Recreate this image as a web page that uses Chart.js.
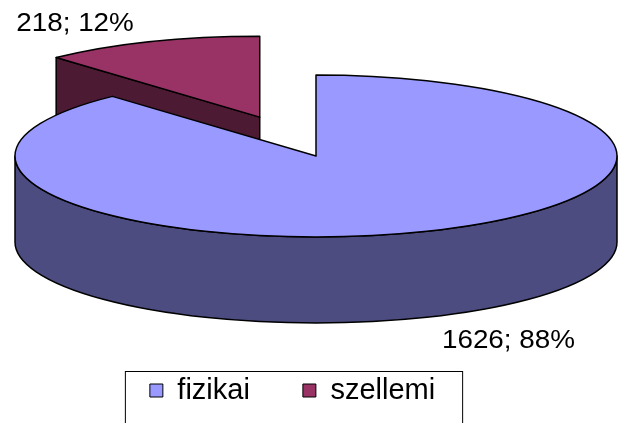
<!DOCTYPE html>
<html>
<head>
<meta charset="utf-8">
<script src="https://cdn.jsdelivr.net/npm/chart.js@4.4.1/dist/chart.umd.min.js"></script>
<style>
  html, body { margin: 0; padding: 0; background: #fff; }
</style>
</head>
<body>
<canvas id="pieChart" width="624" height="423"></canvas>
<script>
// Values
const categories = ['fizikai', 'szellemi'];
const counts = [1626, 218];
const explode = [0, 155];            // px, measured in the un-tilted pie
const topColors = ['#9999FF', '#993366'];
const sideColors = ['#4C4C80', '#4D1A33'];

const FONT = '"Liberation Sans", Arial, sans-serif';

// parts of an arc that face the viewer (lower half of the ellipse)
function frontParts(a1, a2) {
    const parts = [];
    for (let k = -1; k <= 2; k++) {
        const s = Math.max(a1, 2 * Math.PI * k);
        const e = Math.min(a2, 2 * Math.PI * k + Math.PI);
        if (e > s) parts.push([s, e]);
    }
    return parts;
}

// Fake 3D: tilt each arc into an ellipse and give it a wall
const pie3d = {
    id: 'pie3d',
    beforeDatasetsDraw(chart, args, opts) {
        const ctx = chart.ctx;
        const values = chart.data.datasets[0].data;
        const total = values.reduce((a, b) => a + b, 0);
        const sy = opts.tilt, depth = opts.depth;

        const slices = chart.getDatasetMeta(0).data.map((arc, i) => {
            const p = arc.getProps(['startAngle', 'endAngle', 'outerRadius']);
            const mid = (p.startAngle + p.endAngle) / 2;
            const off = arc.options.offset || 0;
            return {
                value: values[i],
                a1: p.startAngle, a2: p.endAngle, r: p.outerRadius, mid: mid,
                x: opts.centerX + Math.cos(mid) * off,
                y: opts.centerY + Math.sin(mid) * off * sy,
                top: arc.options.backgroundColor,
                side: sideColors[i]
            };
        });

        // back slices first
        slices.sort((a, b) => Math.sin(a.mid) - Math.sin(b.mid));

        ctx.save();
        ctx.lineWidth = opts.lineWidth;
        ctx.strokeStyle = '#000';
        ctx.lineJoin = 'round';

        slices.forEach(s => {
            const ry = s.r * sy;
            ctx.fillStyle = s.side;

            // cut faces that turn toward the viewer
            [[s.a1, Math.cos(s.a1) < -0.01], [s.a2, Math.cos(s.a2) > 0.01]].forEach(([a, visible]) => {
                if (!visible) return;
                const px = s.x + Math.cos(a) * s.r;
                const py = s.y + Math.sin(a) * ry;
                ctx.beginPath();
                ctx.moveTo(s.x, s.y);
                ctx.lineTo(px, py);
                ctx.lineTo(px, py + depth);
                ctx.lineTo(s.x, s.y + depth);
                ctx.closePath();
                ctx.fill();
                ctx.stroke();
            });

            // outer wall
            frontParts(s.a1, s.a2).forEach(([a, b]) => {
                ctx.beginPath();
                ctx.ellipse(s.x, s.y, s.r, ry, 0, a, b);
                ctx.lineTo(s.x + Math.cos(b) * s.r, s.y + Math.sin(b) * ry + depth);
                ctx.ellipse(s.x, s.y + depth, s.r, ry, 0, b, a, true);
                ctx.closePath();
                ctx.fill();
                ctx.stroke();
            });

            // top face
            ctx.beginPath();
            ctx.moveTo(s.x, s.y);
            ctx.ellipse(s.x, s.y, s.r, ry, 0, s.a1, s.a2);
            ctx.closePath();
            ctx.fillStyle = s.top;
            ctx.fill();
            ctx.stroke();
        });

        // data labels "value; percent"
        ctx.fillStyle = '#000';
        ctx.font = opts.labelSize + 'px ' + FONT;
        slices.forEach(s => {
            const c = Math.cos(s.mid), sn = Math.sin(s.mid);
            const ex = s.x + c * s.r;
            const ey = s.y + sn * s.r * sy + (sn > 0 ? depth : 0);
            const text = s.value + '; ' + Math.round(s.value / total * 100) + '%';
            ctx.save();
            ctx.translate(ex + c * opts.labelGapX, ey + sn * opts.labelGapY);
            ctx.scale(opts.textStretch, 1);
            ctx.textAlign = c >= 0 ? 'left' : 'right';
            ctx.textBaseline = sn >= 0 ? 'top' : 'alphabetic';
            ctx.fillText(text, 0, 0);
            ctx.restore();
        });

        ctx.restore();
        return false;
    }
};

// thin frame around the legend
const legendFrame = {
    id: 'legendFrame',
    afterDraw(chart) {
        const boxes = chart.legend.legendHitBoxes;
        if (!boxes || !boxes.length) return;
        const first = boxes[0], last = boxes[boxes.length - 1];
        const left = first.left - 25;
        const right = last.left + last.width + 27;
        const top = first.top - 5;
        const ctx = chart.ctx;
        ctx.save();
        ctx.strokeStyle = '#000';
        ctx.lineWidth = 1;
        ctx.strokeRect(left + 0.5, top + 0.5, right - left, chart.height - top + 5);
        ctx.restore();
    }
};

const ctx = document.getElementById('pieChart').getContext('2d');
const pieChart = new Chart(ctx, {
    type: 'pie',
    data: {
        labels: categories,
        datasets: [{
            data: counts,
            backgroundColor: topColors,
            borderColor: '#000',
            borderWidth: 1,
            offset: explode
        }]
    },
    options: {
        responsive: false,
        animation: false,
        radius: 301,
        events: [],
        layout: {
            padding: { right: 39, bottom: 8 }
        },
        plugins: {
            legend: {
                position: 'bottom',
                labels: {
                    boxWidth: 13,
                    boxHeight: 13,
                    padding: 53,
                    color: '#000',
                    font: { size: 29, family: FONT }
                }
            },
            tooltip: { enabled: false },
            pie3d: {
                centerX: 316,
                centerY: 156,
                tilt: 0.269,
                depth: 86,
                lineWidth: 1.5,
                labelSize: 26,
                labelGapX: 46,
                labelGapY: 11,
                textStretch: 1.07
            }
        }
    },
    plugins: [pie3d, legendFrame]
});
</script>
</body>
</html>
